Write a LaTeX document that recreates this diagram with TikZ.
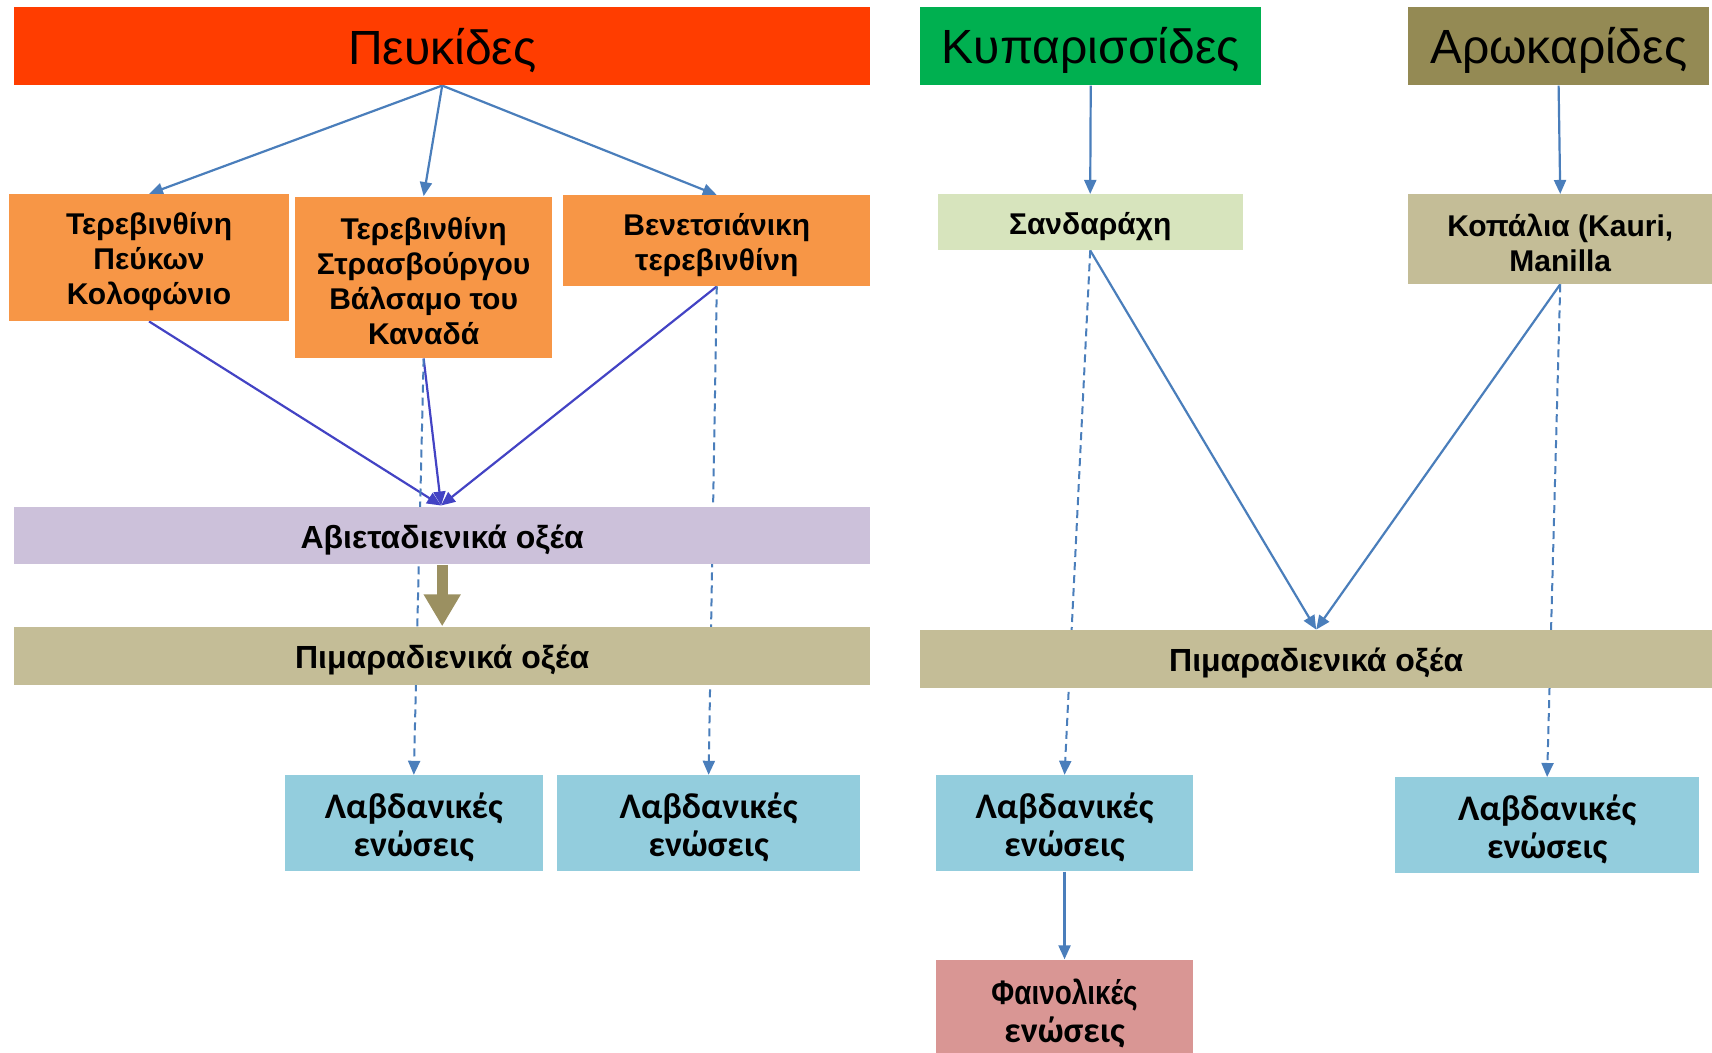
\documentclass[tikz,border=0pt]{standalone}
\usepackage{fontspec}
\setmainfont{Liberation Sans}
\newfontfamily\carlfont{Carlito}
\newfontfamily\narrowfont[FakeStretch=0.82]{Liberation Sans}
\usetikzlibrary{arrows.meta}

\definecolor{cRed}{HTML}{FF3D00}
\definecolor{cGreen}{HTML}{00B050}
\definecolor{cOlive}{HTML}{948A54}
\definecolor{cOrange}{HTML}{F79646}
\definecolor{cLtGreen}{HTML}{D7E4BD}
\definecolor{cTan}{HTML}{C4BD97}
\definecolor{cLav}{HTML}{CCC1DA}
\definecolor{cBlue}{HTML}{93CDDD}
\definecolor{cPink}{HTML}{D99694}
\definecolor{cLine}{HTML}{4A7EBB}
\definecolor{cIndigo}{HTML}{4343C4}
\definecolor{cThick}{HTML}{9B9061}

\pgfdeclarelayer{bg}
\pgfsetlayers{bg,main}

% filled box from corner (x1,y1) to (x2,y2), y pointing down; its text sits slightly low
\newcommand\bx[8]{%
  \node[rectangle, draw=none, inner sep=0pt, fill=#6,
        minimum width={(#4-#2)*0.5459pt}, minimum height={(#5-#3)*0.5459pt}]
    (#1) at ({(#2+#4)/2},{(#3+#5)/2}) {};
  \node[txt, #7] at ([yshift=-2.1pt]#1.center) {#8};}

\tikzset{
  txt/.style={inner sep=0pt, align=center},
  title/.style={font=\fontsize{24}{27}\selectfont},
  lbl/.style={font=\bfseries\fontsize{15}{17.5}\selectfont},
  acid/.style={font=\bfseries\fontsize{16}{18}\selectfont},
  lab/.style={font=\carlfont\bfseries\fontsize{18}{19}\selectfont},
  arr/.style={draw=cLine, line width=1.1pt, -{Triangle[length=7pt,width=6pt]}},
  darr/.style={arr, line width=1pt, dash pattern=on 4pt off 2.5pt},
  iarr/.style={draw=cIndigo, line width=1.1pt, -{Triangle[length=7pt,width=6pt]}},
  fat/.style={draw=cThick, line width=5.5pt, -{Triangle[length=16pt,width=17.5pt]}}
}

\begin{document}
\begin{tikzpicture}[x=0.5459pt, y=-0.5459pt]
\useasboundingbox (0,0) rectangle (1568,964);

% families
\bx{pevk}{13}{6}{797}{78}{cRed}{title}{Πευκίδες}
\bx{kyp}{843}{6}{1155}{78}{cGreen}{title}{Κυπαρισσίδες}
\bx{aro}{1290}{6}{1565}{78}{cOlive}{title}{Αρωκαρίδες}

% resins
\bx{t1}{8}{178}{265}{294}{cOrange}{lbl}{Τερεβινθίνη\\Πεύκων\\Κολοφώνιο}
\bx{t2}{270}{180}{506}{328}{cOrange}{lbl}{Τερεβινθίνη\\Στρασβούργου\\Βάλσαμο του\\Καναδά}
\bx{t3}{516}{179}{797}{262}{cOrange}{lbl}{Βενετσιάνικη\\τερεβινθίνη}
\bx{sand}{859}{178}{1138}{229}{cLtGreen}{lbl}{Σανδαράχη}
\bx{kop}{1290}{178}{1568}{260}{cTan}{lbl}{Κοπάλια (Kauri,\\Manilla}

% acids
\bx{ab}{13}{464}{797}{517}{cLav}{acid}{Αβιεταδιενικά οξέα}
\bx{piL}{13}{574}{797}{627}{cTan}{acid}{Πιμαραδιενικά οξέα}
\bx{piR}{843}{577}{1568}{630}{cTan}{acid}{Πιμαραδιενικά οξέα}

% compounds
\bx{l1}{261}{710}{497}{798}{cBlue}{lab}{Λαβδανικές\\ενώσεις}
\bx{l2}{510}{710}{788}{798}{cBlue}{lab}{Λαβδανικές\\ενώσεις}
\bx{l3}{857}{710}{1093}{798}{cBlue}{lab}{Λαβδανικές\\ενώσεις}
\bx{l4}{1278}{712}{1556}{800}{cBlue}{lab}{Λαβδανικές\\ενώσεις}
\bx{fain}{857}{879}{1093}{964}{cPink}{lab, yshift=-1.5pt}{{\narrowfont\fontsize{17}{19}\selectfont Φαινολικές}\\ενώσεις}

\coordinate (abin) at (404,463);

\begin{pgfonlayer}{bg}
  % pine branch
  \draw[arr] (pevk.south) -- (t1.north);
  \draw[arr] (pevk.south) -- (t2.north);
  \draw[arr] (pevk.south) -- (t3.north);
  \draw[iarr] (t1.south) -- (abin);
  \draw[iarr] (t2.south) -- (abin);
  \draw[iarr] (t3.south) -- (abin);
  \draw[darr] (t2.south) -- (l1.north);
  \draw[darr] (t3.south) -- (l2.north);
  \draw[fat] (ab.south) -- (piL.north);
  % cypress and araucaria branches
  \draw[arr] (kyp.south) -- (sand.north);
  \draw[arr] (aro.south) -- (kop.north);
  \draw[arr] (sand.south) -- (piR.north);
  \draw[arr] (kop.south) -- (piR.north);
  \draw[darr] (sand.south) -- (l3.north);
  \draw[darr] (kop.south) -- (l4.north);
  \draw[arr] (l3.south) -- (fain.north);
\end{pgfonlayer}
\end{tikzpicture}
\end{document}
